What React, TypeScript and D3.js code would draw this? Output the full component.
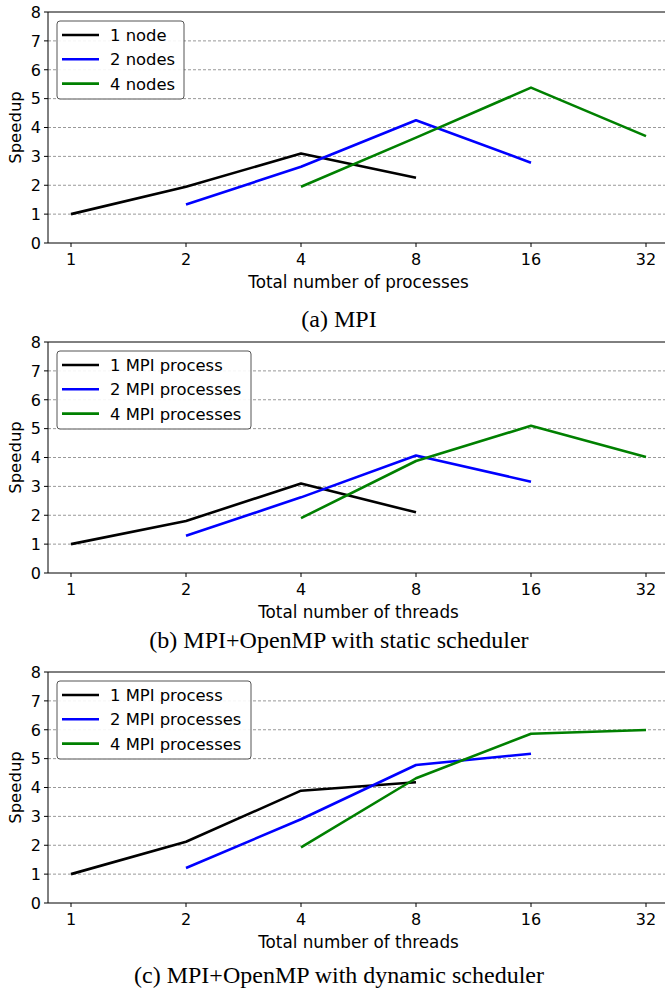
import React, { useEffect, useRef } from 'react';
import * as d3 from 'd3';

const xTicks = [1, 2, 4, 8, 16, 32];
const yTicks = [0, 1, 2, 3, 4, 5, 6, 7, 8];

// (a) MPI
const mpiNames = ['1 node', '2 nodes', '4 nodes'];
const mpi1 = [[1, 1.0], [2, 1.95], [4, 3.1], [8, 2.26]];
const mpi2 = [[2, 1.33], [4, 2.64], [8, 4.25], [16, 2.78]];
const mpi4 = [[4, 1.95], [8, 3.65], [16, 5.38], [32, 3.7]];

// (b) static scheduler
const hybridNames = ['1 MPI process', '2 MPI processes', '4 MPI processes'];
const static1 = [[1, 1.0], [2, 1.8], [4, 3.1], [8, 2.1]];
const static2 = [[2, 1.29], [4, 2.62], [8, 4.07], [16, 3.16]];
const static4 = [[4, 1.9], [8, 3.88], [16, 5.1], [32, 4.02]];

// (c) dynamic scheduler
const dyn1 = [[1, 1.0], [2, 2.12], [4, 3.89], [8, 4.18]];
const dyn2 = [[2, 1.21], [4, 2.9], [8, 4.78], [16, 5.17]];
const dyn4 = [[4, 1.93], [8, 4.32], [16, 5.86], [32, 5.99]];

const colors = ['#000000', '#0000ff', '#008000'];

const panels = [
  { top: 12, series: [mpi1, mpi2, mpi4], names: mpiNames, legendW: 127, xlabel: 'Total number of processes', caption: '(a) MPI', capY: 327 },
  { top: 342, series: [static1, static2, static4], names: hybridNames, legendW: 194, xlabel: 'Total number of threads', caption: '(b) MPI+OpenMP with static scheduler', capY: 648 },
  { top: 672, series: [dyn1, dyn2, dyn4], names: hybridNames, legendW: 194, xlabel: 'Total number of threads', caption: '(c) MPI+OpenMP with dynamic scheduler', capY: 983 },
];

const App = () => {
  const ref = useRef(null);

  useEffect(() => {
    const svg = d3.select(ref.current);
    svg.selectAll('*').remove();
    const left = 48;
    const right = 669;
    const h = 231;
    const font = 'DejaVu Sans, sans-serif';

    const x = d3.scaleLog().base(2).domain([Math.pow(2, -0.2), Math.pow(2, 5.2)]).range([left, right]);

    panels.forEach((p) => {
      const y = d3.scaleLinear().domain([0, 8]).range([p.top + h, p.top]);
      const g = svg.append('g');

      // grid
      g.selectAll('.grid')
        .data(yTicks.filter((t) => t > 0 && t < 8))
        .enter()
        .append('line')
        .attr('x1', left)
        .attr('x2', right)
        .attr('y1', (d) => y(d))
        .attr('y2', (d) => y(d))
        .attr('stroke', '#999')
        .attr('stroke-width', 1)
        .attr('stroke-dasharray', '3,2');

      // series
      const line = d3.line().x((d) => x(d[0])).y((d) => y(d[1]));
      p.series.forEach((s, i) => {
        g.append('path')
          .attr('d', line(s))
          .attr('fill', 'none')
          .attr('stroke', colors[i])
          .attr('stroke-width', 2.6)
          .attr('stroke-linejoin', 'round');
      });

      // spines
      g.append('line').attr('x1', left).attr('x2', right).attr('y1', p.top).attr('y2', p.top).attr('stroke', '#000').attr('stroke-width', 1);
      g.append('line').attr('x1', left).attr('x2', right).attr('y1', p.top + h).attr('y2', p.top + h).attr('stroke', '#000').attr('stroke-width', 1);
      g.append('line').attr('x1', left).attr('x2', left).attr('y1', p.top).attr('y2', p.top + h).attr('stroke', '#000').attr('stroke-width', 1);

      // x ticks
      const xt = g.selectAll('.xt').data(xTicks).enter().append('g');
      xt.append('line')
        .attr('x1', (d) => x(d)).attr('x2', (d) => x(d))
        .attr('y1', p.top + h).attr('y2', p.top + h + 4)
        .attr('stroke', '#000');
      xt.append('text')
        .attr('x', (d) => x(d))
        .attr('y', p.top + h + 22)
        .attr('text-anchor', 'middle')
        .attr('font-family', font)
        .attr('font-size', 16)
        .text((d) => d);

      // y ticks
      const yt = g.selectAll('.yt').data(yTicks).enter().append('g');
      yt.append('line')
        .attr('x1', left - 4).attr('x2', left)
        .attr('y1', (d) => y(d)).attr('y2', (d) => y(d))
        .attr('stroke', '#000');
      yt.append('text')
        .attr('x', left - 7)
        .attr('y', (d) => y(d) + 5.8)
        .attr('text-anchor', 'end')
        .attr('font-family', font)
        .attr('font-size', 16)
        .text((d) => d);

      // axis labels
      g.append('text')
        .attr('x', (left + right) / 2)
        .attr('y', p.top + h + 45)
        .attr('text-anchor', 'middle')
        .attr('font-family', font)
        .attr('font-size', 16.8)
        .text(p.xlabel);
      g.append('text')
        .attr('transform', `translate(21,${p.top + h / 2}) rotate(-90)`)
        .attr('text-anchor', 'middle')
        .attr('font-family', font)
        .attr('font-size', 16.5)
        .text('Speedup');

      // legend
      const lx = 57;
      const ly = p.top + 9;
      g.append('rect')
        .attr('x', lx).attr('y', ly)
        .attr('width', p.legendW).attr('height', 78)
        .attr('rx', 3)
        .attr('fill', 'white')
        .attr('fill-opacity', 0.9)
        .attr('stroke', '#555')
        .attr('stroke-width', 1);
      p.names.forEach((n, i) => {
        const cy = ly + 14 + i * 24.3;
        g.append('line')
          .attr('x1', lx + 5).attr('x2', lx + 42)
          .attr('y1', cy).attr('y2', cy)
          .attr('stroke', colors[i])
          .attr('stroke-width', 2.6);
        g.append('text')
          .attr('x', lx + 53)
          .attr('y', cy + 6)
          .attr('font-family', font)
          .attr('font-size', 16.4)
          .text(n);
      });

      // caption
      g.append('text')
        .attr('x', 339)
        .attr('y', p.capY)
        .attr('text-anchor', 'middle')
        .attr('font-family', 'Liberation Serif, serif')
        .attr('font-size', 24)
        .text(p.caption);
    });
  }, []);

  return (
    <svg ref={ref} width="665" height="992" style={{ position: 'absolute', left: 0, top: 0, background: 'white' }}></svg>
  );
};

export default App;
